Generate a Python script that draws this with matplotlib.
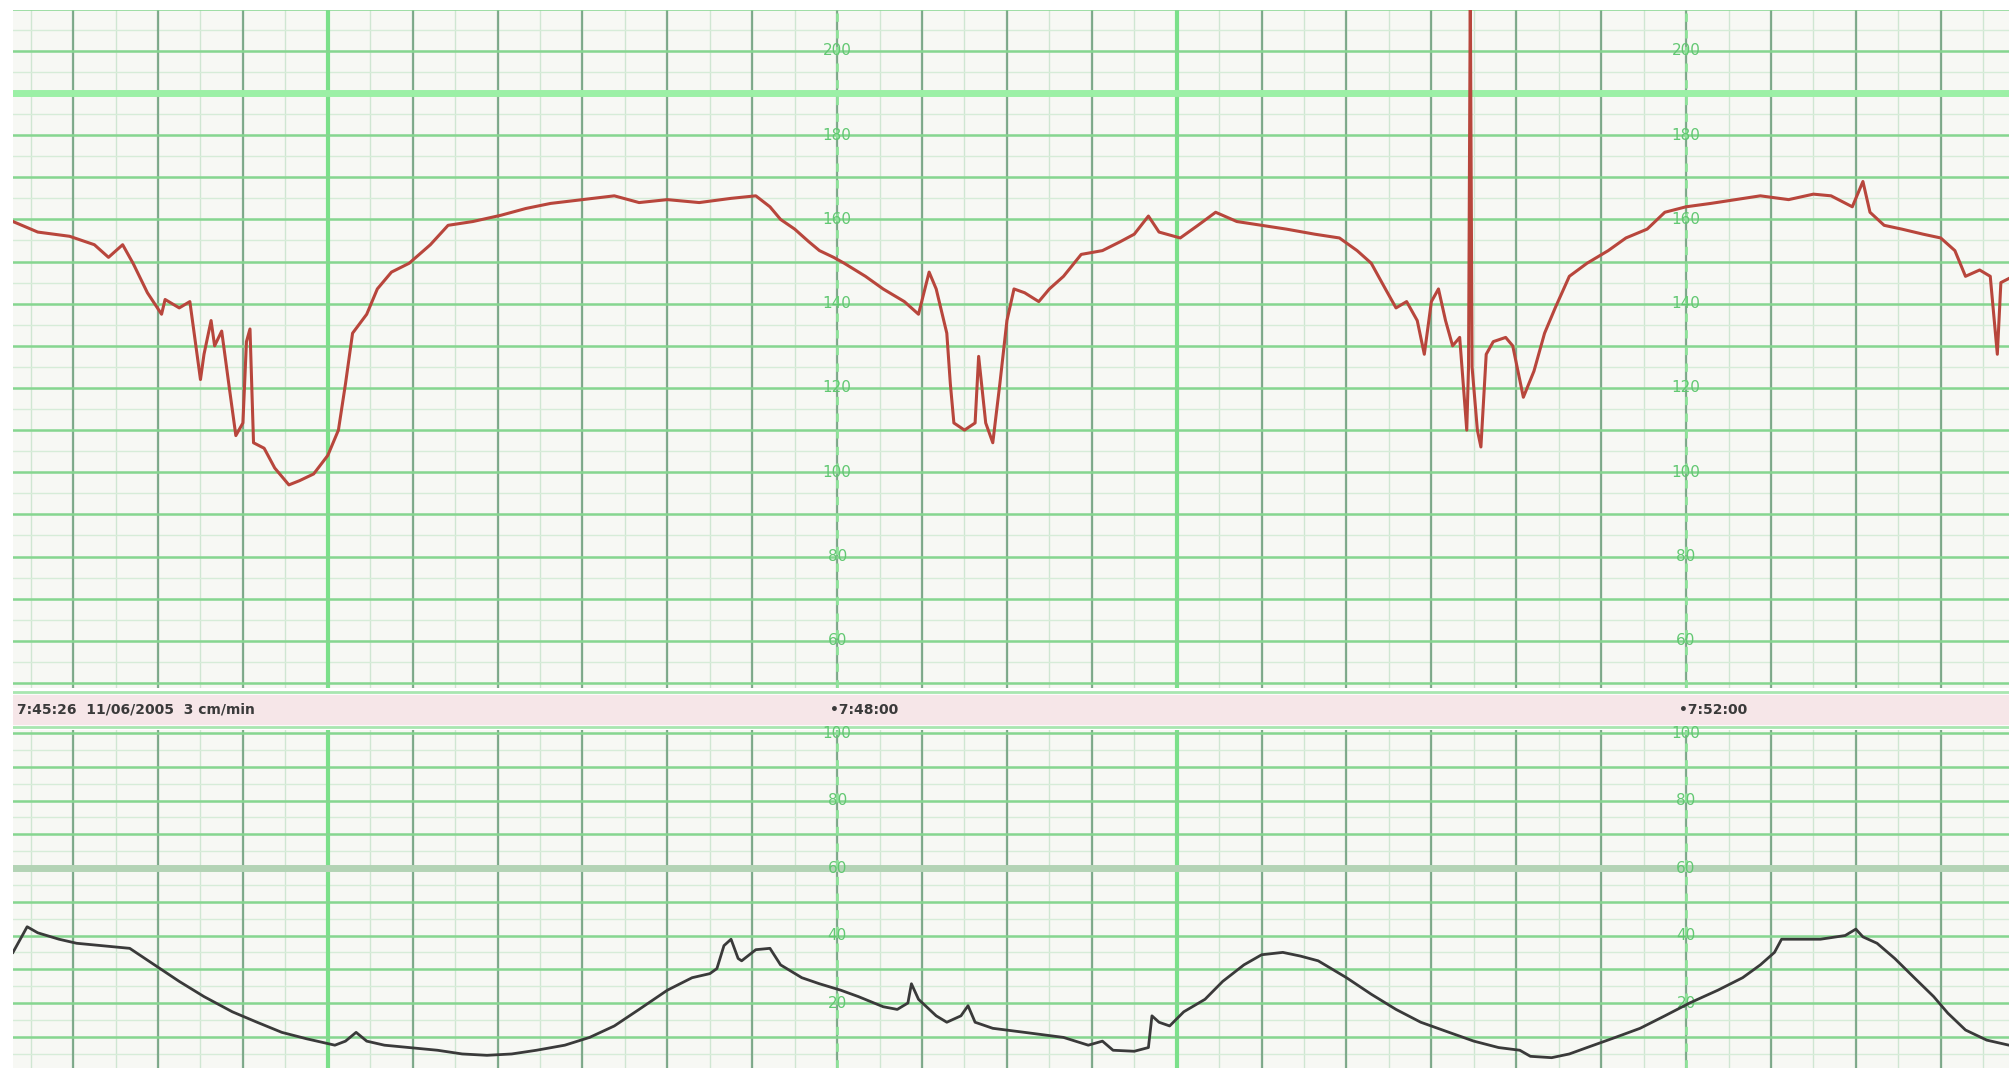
import numpy as np
import matplotlib.pyplot as plt

# time axis in seconds after 7:44:00, one grid box = 24 s
fhr_t = [7, 14, 23, 30, 34, 38, 41, 45, 49, 50,
         54, 57, 60, 61, 63, 64, 66, 68, 70, 72,
         73, 74, 75, 78, 81, 85, 88, 92, 96, 99,
         101, 103, 107, 110, 114, 119, 125, 130, 137, 145,
         152, 159, 168, 177, 184, 192, 201, 210, 217, 221,
         224, 228, 232, 235, 239, 242, 248, 253, 259, 263,
         266, 268, 271, 272, 273, 276, 279, 280, 282, 284,
         286, 288, 290, 293, 297, 300, 304, 309, 315, 320,
         324, 328, 331, 337, 342, 347, 353, 360, 367, 375,
         382, 387, 391, 395, 398, 401, 404, 406, 408, 410,
         412, 414, 416, 418, 418.5, 419, 419.5, 421, 422, 423.5,
         425.5, 429, 431, 434, 437, 440, 443, 447, 452, 458,
         463, 469, 474, 480, 487, 494, 501, 509, 516, 521,
         527, 530, 532, 536, 541, 547, 552, 556, 559, 563,
         566, 568, 569, 571.3]
fhr_bpm = [159.5, 157, 156, 154, 151, 154, 149.5, 142.6, 137.5, 141,
           139, 140.5, 122, 128, 136, 130, 133.5, 121, 108.7, 111.7,
           131, 134, 107, 105.7, 101, 97, 98, 99.6, 104, 110,
           121, 133, 137.5, 143.5, 147.5, 149.6, 154, 158.6, 159.5, 161,
           162.6, 163.8, 164.7, 165.6, 164, 164.7, 164, 165, 165.6, 163,
           160, 157.7, 154.7, 152.6, 151, 149.6, 146.5, 143.5, 140.5, 137.5,
           147.5, 143.5, 133, 121, 111.7, 110, 111.7, 127.5, 111.7, 107,
           121, 136, 143.5, 142.6, 140.5, 143.5, 146.5, 151.7, 152.6, 154.7,
           156.5, 160.8, 157, 155.6, 158.6, 161.7, 159.5, 158.6, 157.7, 156.5,
           155.6, 152.6, 149.6, 143.5, 139, 140.5, 136, 128, 140.5, 143.5,
           136, 130, 132, 110, 125, 215, 125, 110, 106, 128,
           131, 132, 130, 117.8, 124, 133, 139, 146.5, 149.6, 152.6,
           155.6, 157.7, 161.7, 163, 163.8, 164.7, 165.6, 164.7, 166, 165.6,
           163, 169, 161.7, 158.6, 157.7, 156.5, 155.6, 152.6, 146.5, 148,
           146.5, 128, 145, 146]

toco_t = [7, 11, 14, 20, 25, 32, 40, 47, 54, 61,
          69, 76, 83, 90, 98, 101, 104, 107, 112, 119,
          127, 134, 141, 148, 155, 163, 170, 177, 184, 192,
          199, 204, 206, 208, 210, 212, 213, 217, 221, 224,
          230, 235, 241, 246, 253, 257, 260, 261, 263, 268,
          271, 275, 277, 279, 284, 293, 304, 311, 315, 318,
          324, 328, 329, 331, 334, 338, 344, 349, 355, 360,
          366, 371, 376, 384, 391, 398, 405, 413, 420, 427,
          433, 436, 442, 447, 452, 460, 467, 474, 481, 489,
          496, 501, 505, 507, 518, 525, 528, 530, 534, 539,
          545, 550, 554, 559, 565, 571.3]
toco_val = [35, 42.6, 40.8, 38.9, 37.7, 37, 36.2, 31.3, 26.4, 21.9,
            17.4, 14.3, 11.3, 9.4, 7.5, 8.7, 11.3, 8.7, 7.5, 6.8,
            6, 4.9, 4.5, 4.9, 6, 7.5, 9.8, 13.2, 18.1, 23.8,
            27.5, 28.7, 30.2, 37, 38.9, 33.2, 32.5, 35.8, 36.2, 31.3,
            27.5, 25.7, 23.8, 21.9, 18.9, 18.1, 20, 25.7, 21.1, 16.2,
            14.3, 16.2, 19.2, 14.3, 12.5, 11.3, 9.8, 7.5, 8.7, 6,
            5.7, 6.8, 16.2, 14.3, 13.2, 17.4, 21.1, 26.4, 31.3, 34.3,
            35, 33.9, 32.5, 27.5, 22.6, 18.1, 14.3, 11.3, 8.7, 6.8,
            6, 4.2, 3.8, 4.9, 6.8, 9.8, 12.5, 16.2, 20, 23.8,
            27.5, 31.3, 35, 38.9, 38.9, 40, 41.9, 39.6, 37.7, 33.2,
            27, 21.9, 17, 12, 9, 7.5]

fhr_labels = [200, 180, 160, 140, 120, 100, 80, 60]
toco_labels = [100, 80, 60, 40, 20]
label_times = [240, 480]
label_texts = ["\u20227:48:00", "\u20227:52:00"]
header_text = "7:45:26  11/06/2005  3 cm/min"

W, H = 2009, 1068
XMIN, XMAX = 7, 571.3
BOX = 24

GRID_GREEN = "#86d690"
MAJOR_V = "#5f9470"
LABEL_GREEN = "#62c872"


def fy(px):
    return 1 - px / H


def draw_grid(ax, y_lo, y_hi, step, bright=None, band=None):
    for t in np.arange(0, XMAX + BOX, BOX / 2):
        ax.axvline(t, color="#cfe6d2", lw=1.0, zorder=1)
    for t in np.arange(0, XMAX + BOX, BOX):
        ax.axvline(t, color=MAJOR_V, lw=1.6, alpha=0.75, zorder=2)
    for t in [4 * BOX, 14 * BOX]:
        ax.axvline(t, color="#7be08a", lw=3, zorder=2)
    for v in np.arange(y_lo, y_hi + 1, step / 2):
        ax.axhline(v, color="#d6ecd8", lw=1.0, zorder=1)
    for v in np.arange(y_lo, y_hi + 1, step):
        ax.axhline(v, color=GRID_GREEN, lw=1.8, zorder=2)
    if bright is not None:
        ax.axhline(bright, color="#9cf0a6", lw=5, zorder=2)
    if band is not None:
        ax.axhline(band, color="#b3d3b5", lw=5, zorder=2)
    for t in label_times:
        ax.axvline(t, color="#8fe39a", lw=2, ls=(0, (3, 3)), zorder=3)
    ax.set_xlim(XMIN, XMAX)
    ax.set_xticks([])
    ax.set_yticks([])
    for s in ax.spines.values():
        s.set_visible(False)
    ax.set_facecolor("#f7f8f4")


fig = plt.figure(figsize=(W / 100, H / 100), dpi=100)
fig.patch.set_facecolor("white")

# upper panel: fetal heart rate
ax1 = fig.add_axes([13 / W, fy(688), 1 - 13 / W, (688 - 10) / H])
draw_grid(ax1, 50, 210, 10, bright=190)
ax1.set_ylim(48.8, 209.7)
ax1.plot(fhr_t, fhr_bpm, color="#b8463c", lw=2.2, zorder=5)
for t in label_times:
    for v in fhr_labels:
        ax1.text(t, v, str(v), color=LABEL_GREEN, fontsize=11,
                 ha="center", va="center", zorder=4)

# band with time stamps
axb = fig.add_axes([13 / W, fy(729), 1 - 13 / W, (729 - 690) / H])
axb.set_xlim(XMIN, XMAX)
axb.set_ylim(0, 1)
axb.axis("off")
axb.axhspan(0.12, 0.88, color="#f6e6e8", zorder=1)
axb.axhline(0.95, color="#a8e6b0", lw=2)
axb.axhline(0.05, color="#a8e6b0", lw=2)
axb.text(XMIN + 1, 0.5, header_text, fontsize=10, fontweight="bold",
         color="#3a3a3a", va="center", ha="left")
for t, s in zip(label_times, label_texts):
    axb.text(t - 2, 0.5, s, fontsize=10, fontweight="bold",
             color="#3a3a3a", va="center", ha="left")

# lower panel: uterine activity
ax2 = fig.add_axes([13 / W, 0, 1 - 13 / W, (1068 - 730) / H])
draw_grid(ax2, 0, 100, 10, band=60)
ax2.set_ylim(0.74, 100.9)
ax2.plot(toco_t, toco_val, color="#3a3a3a", lw=2, zorder=5)
for t in label_times:
    for v in toco_labels:
        ax2.text(t, v, str(v), color=LABEL_GREEN, fontsize=11,
                 ha="center", va="center", zorder=4)

fig.savefig("out.png", dpi=100)
